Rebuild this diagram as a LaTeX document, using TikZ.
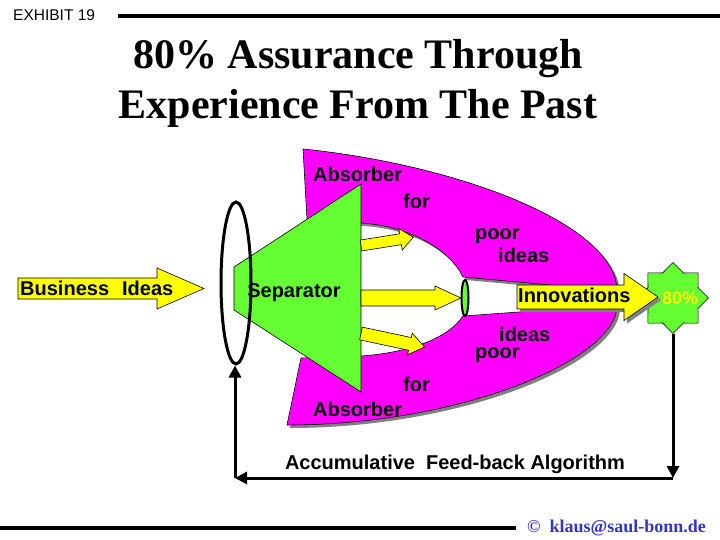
\documentclass[tikz,border=0pt]{standalone}
\usepackage{fontspec}
\setmainfont{Liberation Sans}
\newfontfamily\titlefont{Liberation Serif}
\usetikzlibrary{shapes.geometric, arrows.meta, positioning, calc}
\definecolor{magentaF}{RGB}{255,0,255}
\definecolor{limeG}{RGB}{102,255,51}
\definecolor{yelF}{RGB}{255,255,0}
\definecolor{mailblue}{RGB}{51,51,204}
\tikzstyle{fback} = [line width=3pt,-{Triangle[length=12pt,width=12pt]}]
% fat block arrow: style, start, angle, length, half body, half head, head length
\newcommand{\fatarrow}[7]{%
  \draw[#1, shift={#2}, rotate=#3]
    (0,-#5) -- ({#4-#7},-#5) -- ({#4-#7},-#6) -- (#4,0)
    -- ({#4-#7},#6) -- ({#4-#7},#5) -- (0,#5) -- cycle;}

\begin{document}
\begin{tikzpicture}[
    x=1pt, y=-1pt,
    lbl/.style={font=\fontsize{20}{23}\selectfont\bfseries, inner sep=0pt,
                anchor=base west},
    yarrow/.style={fill=yelF, draw=black, line width=0.6pt},
    blob/.style={fill=magentaF, draw=black, line width=0.6pt},
    shade/.style={fill=black!50, draw=none}
]
\useasboundingbox[fill=white] (0,0) rectangle (720,540);

% --- header ---
\draw[line width=3.5pt] (118,16) -- (720,16);
\node[inner sep=0pt, anchor=base west, font=\fontsize{15.5}{17}\selectfont]
    (exh) at (13,21) {EXHIBIT 19};
\node[inner sep=0pt, anchor=base, font=\titlefont\fontsize{42}{48}\selectfont\bfseries]
    (title1) at (358,69) {80\% Assurance Through};
\node[inner sep=0pt, anchor=base, font=\titlefont\fontsize{42}{48}\selectfont\bfseries]
    (title2) at (358,119) {Experience From The Past};

% --- input arrow ---
\fatarrow{yarrow}{(18,288.5)}{0}{186}{10.5}{20.5}{47}
\node[lbl] (biz) at (20,295) {Business\hspace{13pt}Ideas};

% --- absorber (shadow, then shape) ---
\begin{scope}[shift={(3,3)}]
\fill[shade] (303,149) .. controls (460,165) and (617,225) .. (617,291)
    -- (463,277) .. controls (450,250) and (410,226) .. (361,223)
    -- (307,219) -- cycle;
\fill[shade] (287,425) .. controls (460,425) and (617,360) .. (617,305)
    -- (463,316) .. controls (447,340) and (405,353) .. (361,356)
    -- (301,358) -- cycle;
\end{scope}
\draw[blob] (303,149) .. controls (460,165) and (617,225) .. (617,291)
    -- (463,277) .. controls (450,250) and (410,226) .. (361,223)
    -- (307,219) -- cycle;
\draw[blob] (287,425) .. controls (460,425) and (617,360) .. (617,305)
    -- (463,316) .. controls (447,340) and (405,353) .. (361,356)
    -- (301,358) -- cycle;

% --- separator ---
\draw[fill=limeG, line width=0.6pt] (234,267) -- (361,184) -- (361,392) -- (234,310) -- cycle;
\node[ellipse, draw, line width=3pt, minimum width=30, minimum height=162,
      inner sep=0pt] (ring) at (236,283) {};
\node[lbl, anchor=base] (sep) at (294,297) {Separator};

% --- split arrows ---
\fatarrow{yarrow}{(361,245.5)}{9}{53}{5.5}{11}{13}
\fatarrow{yarrow}{(361,298)}{0}{100}{8}{12}{26}
\fatarrow{yarrow}{(361,333.5)}{-12}{65}{6.5}{11}{15}
\node[ellipse, fill=limeG, draw, line width=2pt, minimum width=7,
      minimum height=36, inner sep=0pt] (gate) at (465,298) {};

% --- output ---
\node[star, star points=8, star point ratio=1.31, minimum size=71,
      inner sep=0pt, fill=limeG, draw, line width=0.6pt] (goal) at (673,298) {};
\fatarrow{shade}{(520,300)}{0}{141}{12}{23.5}{34}
\fatarrow{yarrow}{(517,297)}{0}{141}{12}{23.5}{34}
\node[lbl] (innov) at (518,302) {Innovations};
\node[lbl, text=yelF, font=\fontsize{18}{20}\selectfont\bfseries] (pct) at (662,304) {80\%};

% --- absorber texts ---
\node[lbl] (ab1) at (313,182) {Absorber};
\node[lbl] (for1) at (403,208) {for};
\node[lbl] (poor1) at (475,240) {poor};
\node[lbl] (ideas1) at (498,262) {ideas};
\node[lbl] (ideas2) at (499,341) {ideas};
\node[lbl] (poor2) at (475,358) {poor};
\node[lbl] (for2) at (403,391) {for};
\node[lbl] (ab2) at (313,416) {Absorber};

% --- feed-back loop ---
\coordinate (cornerR) at (673,478);
\coordinate (cornerL) at (235,478);
\draw[fback] (goal.south) -- (cornerR);
\draw[fback] (cornerR) -- (cornerL);
\draw[fback] (cornerL) -- (cornerL |- ring.south);
\node[lbl, anchor=base] (loop) at (455,469)
    {Accumulative\hspace{11pt}Feed-back Algorithm};

% --- footer ---
\draw[line width=4pt] (0,528) -- (516,528);
\node[inner sep=0pt, anchor=base west, text=mailblue,
      font=\titlefont\fontsize{18}{20}\selectfont\bfseries] (mail) at (527,532)
    {\textcopyright\hspace{9pt}klaus@saul-bonn.de};
\end{tikzpicture}
\end{document}
